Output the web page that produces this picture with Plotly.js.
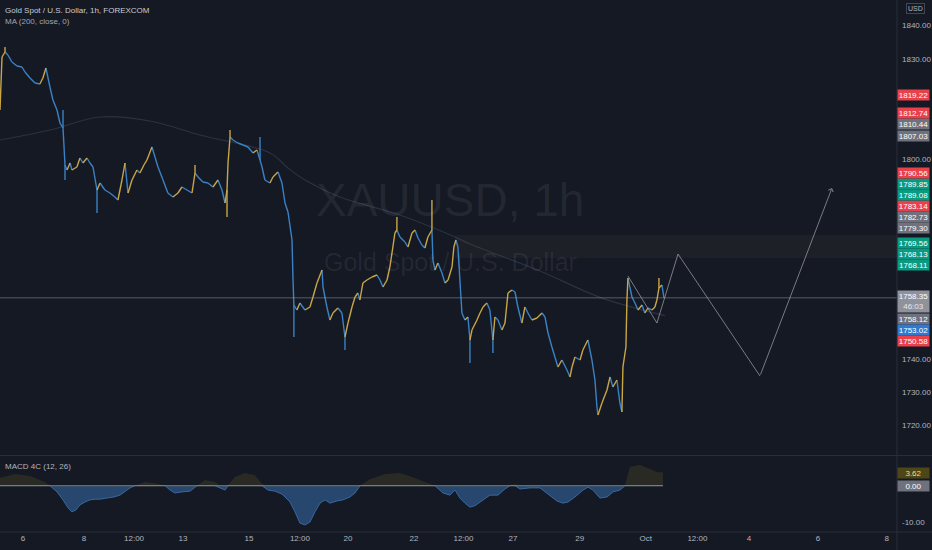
<!DOCTYPE html>
<html><head><meta charset="utf-8">
<script src="https://cdn.plot.ly/plotly-3.0.1.min.js"></script>
<style>html,body{margin:0;padding:0;background:#151924;overflow:hidden}#chart{width:932px;height:550px}</style>
</head><body><div id="chart"></div>
<script>
// ---- data (bar index = hourly bars from Sep 6 open) ----
const barIdx = [-16.0,-14.6,-12.5,-10.5,-7.7,-4.2,-0.7,1.4,4.9,8.4,11.8,13.9,16.0,18.8,20.9,23.7,25.8,27.9,29.3,30.7,32.8,34.1,37.6,39.7,41.8,44.6,46.7,48.8,51.6,53.7,57.1,60.6,64.1,66.2,69.0,71.1,73.2,76.0,79.4,81.5,84.3,86.4,89.9,92.0,94.1,97.6,101.0,104.5,108.0,110.8,114.3,117.8,119.9,122.0,125.4,128.9,132.4,135.9,138.7,140.8,142.2,142.9,144.3,146.3,149.8,153.3,156.8,160.3,163.1,165.2,166.6,168.6,172.1,174.2,177.7,180.5,182.6,184.7,187.5,188.2,188.8,190.9,193.0,196.5,200.0,202.1,204.9,208.4,209.1,211.8,213.9,216.0,219.5,222.3,224.4,226.5,229.3,231.4,233.4,234.8,236.9,239.7,243.2,246.7,248.8,250.9,253.7,255.7,257.8,259.2,260.6,262.7,266.2,268.3,271.1,273.2,275.3,278.0,280.1,282.2,285.0,285.7,287.1,289.2,292.0,294.1,296.2,299.0,300.3,301.7,303.1,304.5,305.9,308.0,310.1,311.5,312.9,316.4,318.5,320.6,323.3,325.4,327.5,328.9,331.0,333.8,335.9,338.0,340.8,342.9,344.9,347.7,349.8,351.9,354.7,358.2,361.7,363.8,365.9,368.6,370.7,372.8,375.6,379.1,381.2,382.6,384.7,388.2,390.2,393.7,396.5,398.6,400.0,400.7,403.5,407.0,409.1,411.1,413.9,416.0,417.4,418.1,420.2,420.9,421.6,424.4,426.5,428.6,431.4,433.4,435.5,438.3,440.4,441.8,443.2,445.3,446.7];
const closes = [1814.7,1830.6,1832.1,1831.2,1829.1,1827.9,1827.6,1826.1,1824.3,1822.8,1822.5,1824.3,1827.3,1821.6,1817.7,1814.7,1810.8,1809.3,1798.2,1796.7,1798.8,1796.7,1797.6,1800.3,1798.8,1800.3,1798.8,1797.6,1790.7,1792.8,1790.7,1789.8,1788.6,1787.7,1793.7,1798.8,1789.8,1793.7,1796.7,1795.8,1798.2,1799.7,1803.6,1800.6,1797.6,1793.7,1789.8,1788.6,1789.8,1791.6,1790.7,1789.8,1795.8,1794.6,1793.1,1792.8,1791.6,1793.7,1790.7,1786.8,1790.7,1798.8,1806.6,1805.7,1804.8,1804.2,1803.6,1801.8,1802.7,1799.7,1797.6,1793.7,1792.8,1794.6,1796.1,1792.8,1786.8,1784.1,1775.7,1763.7,1756.2,1754.7,1756.8,1754.7,1755.6,1758.6,1762.8,1766.7,1761.6,1755.6,1751.7,1753.8,1755.3,1753.8,1746.6,1750.8,1755.6,1758.6,1759.8,1757.7,1762.8,1763.7,1764.6,1765.2,1763.7,1761.6,1763.7,1767.6,1773.6,1777.8,1778.7,1776.6,1775.1,1773.6,1777.8,1778.7,1776.3,1774.2,1773.3,1776.6,1778.7,1769.7,1766.7,1768.8,1765.8,1762.8,1763.7,1767.6,1773.6,1775.7,1773.6,1763.7,1753.8,1751.7,1752.6,1745.7,1748.7,1751.7,1753.8,1755.6,1756.8,1754.7,1745.7,1752.6,1751.7,1748.7,1750.8,1759.8,1760.7,1760.1,1755.6,1750.8,1755.6,1753.8,1751.7,1752.3,1753.8,1752.6,1747.8,1743.6,1740.6,1737.6,1739.7,1736.7,1734.6,1737.6,1740.6,1739.7,1742.7,1745.7,1739.7,1733.7,1725.6,1723.2,1726.8,1730.7,1734.6,1731.6,1733.7,1726.8,1724.1,1737.6,1743.6,1757.7,1764.3,1758.6,1756.8,1754.7,1756.2,1753.8,1755.3,1754.7,1755.6,1757.7,1761.3,1762.2,1758.35];
const spikeIdx = [-12.5,27.9,29.3,51.6,119.9,142.2,144.3,165.2,188.8,224.4,260.6,285.0,311.5,327.5,443.2];
const spikeVal = [1833.6,1814.7,1793.7,1783.8,1798.2,1782.6,1808.7,1806.6,1746.6,1742.7,1782.6,1787.7,1738.8,1741.8,1764.3];
const maIdx = [-16.0,18.8,53.7,88.5,123.4,172.1,184.7,196.5,220.9,262.7,301.1,311.5,360.3,402.1,447.4];
const maVal = [1805.7,1808.7,1812.6,1811.4,1807.2,1801.8,1797.3,1793.7,1788.6,1783.2,1776.6,1774.5,1766.4,1758.5,1753.0];
const macdIdx = [-16.0,-5.6,4.9,15.3,18.8,23.7,27.9,31.4,34.1,36.9,39.7,43.2,46.7,50.2,53.7,58.5,63.4,67.6,71.1,74.6,78.1,85.0,92.0,99.0,102.5,105.9,110.8,116.4,121.3,126.8,133.8,137.3,140.8,142.9,147.7,154.7,161.7,166.6,170.7,175.6,180.5,186.1,189.6,193.0,196.5,200.0,203.5,207.0,210.5,213.9,218.8,223.0,227.9,231.4,234.9,241.8,252.3,262.7,271.1,280.1,287.1,292.7,297.6,301.1,304.5,308.0,311.5,315.0,320.6,325.4,331.0,335.9,339.4,342.9,346.4,353.3,360.3,367.3,372.1,376.3,379.8,384.7,390.3,393.7,397.2,402.1,407.0,411.2,416.0,419.5,423.0,430.0,436.9,441.8,446.0];
const macdVal = [2.1,3.2,2.7,1.0,0,-1.7,-3.9,-6.1,-7.2,-6.7,-5.3,-4.5,-3.9,-3.7,-3.7,-3.4,-3.1,-2.6,-1.7,-0.6,0,1.0,0.7,0,-1.2,-2.0,-1.7,-1.5,0,1.6,1.0,-0.6,-1.2,0.2,2.4,3.5,2.9,0.5,-1.2,-1.5,-2.3,-4.5,-7.2,-10.3,-10.8,-10.0,-7.2,-4.8,-3.9,-4.8,-4.2,-3.9,-3.1,-2.0,0,1.8,3.2,3.5,2.4,1.0,0,-2.0,-2.6,-1.2,-3.4,-4.8,-5.9,-5.5,-3.9,-2.6,-2.6,-0.9,0,0.5,-0.9,-0.6,-0.6,-2.6,-4.2,-4.8,-4.5,-3.1,-1.2,-0.4,-1.2,-3.4,-3.1,-1.7,-1.2,0,5.2,5.7,4.6,3.8,3.62];
const tickIdx = [0,42.5,77.4,111.5,157.5,193,226.5,272.5,307,341.5,388,434,470,506,554,602];
const tickText = ['6','8','12:00','13','15','12:00','20','22','12:00','27','29','Oct','12:00','4','6','8'];
const priceTicks = [1720,1730,1740,1750,1760,1770,1780,1790,1800,1810,1820,1830,1840];
const projIdx = [421.6,441.8,456.5,513.6];
const projVal = [1764.9,1750.8,1771.5,1734.9];
const arrowTip = [563.8,1791.3];
const zoneStart = 301.1, zoneLow = 1770.3, zoneHigh = 1777.2;
const labelVals = [1819.22,1812.74,1810.44,1807.03,1790.56,1789.85,1789.08,1783.14,1782.73,1779.30,1769.56,1768.13,1768.11,1758.12,1753.02,1750.58];
const labelKind = ['r','r','g0','g0','r','t','t','r','g0','g0','t','t','t','g0','b','r'];
const lastPrice = 1758.35, countdown = '46:03';
const macdLast = 3.62;

// ---- geometry ----
const W=932,H=550,ML=0,MR=35,MT=0,MB=18;
const PW=W-ML-MR, PH=H-MT-MB;
const yMainRange=[1711.2,1847.7], yMacdRange=[-12.75,8.18], xRange=[-16.0,609.1];
const mainDom=[77/PH,1], macdDom=[0,76/PH];
const FONT='"Liberation Sans",Arial,sans-serif';
const COL={r:'#e8414b',t:'#0a9981',g0:'#6f727d',b:'#2f7ad0'};
const UP='#c9a646', DN='#3b82c4';

// price path segments coloured by direction
const upX=[],upY=[],dnX=[],dnY=[];
for(let i=1;i<barIdx.length;i++){
  const up=closes[i]>=closes[i-1];
  (up?upX:dnX).push(barIdx[i-1],barIdx[i],null);
  (up?upY:dnY).push(closes[i-1],closes[i],null);
}
spikeIdx.forEach((b,k)=>{
  const i=barIdx.indexOf(b); if(i<0)return;
  const up=i>0?closes[i]>=closes[i-1]:true;
  (up?upX:dnX).push(b,b,null);
  (up?upY:dnY).push(closes[i],spikeVal[k],null);
});

const traces=[
 {x:maIdx,y:maVal,type:'scatter',mode:'lines',line:{color:'rgba(120,140,175,0.22)',width:1.2,shape:'spline'},hoverinfo:'skip',yaxis:'y'},
 {x:dnX,y:dnY,type:'scatter',mode:'lines',line:{color:DN,width:1.4},hoverinfo:'skip',yaxis:'y'},
 {x:upX,y:upY,type:'scatter',mode:'lines',line:{color:UP,width:1.4},hoverinfo:'skip',yaxis:'y'},
 {x:projIdx,y:projVal,type:'scatter',mode:'lines',line:{color:'rgba(165,165,170,0.7)',width:1},hoverinfo:'skip',yaxis:'y'},
 {x:macdIdx,y:macdVal.map(v=>Math.max(v,0)),type:'scatter',mode:'lines',fill:'tozeroy',fillcolor:'rgba(120,105,40,0.22)',line:{width:0,color:'rgba(0,0,0,0)'},hoverinfo:'skip',xaxis:'x',yaxis:'y2'},
 {x:macdIdx,y:macdVal.map(v=>Math.min(v,0)),type:'scatter',mode:'lines',fill:'tozeroy',fillcolor:'#27476e',line:{width:1,color:'#3867a0'},hoverinfo:'skip',xaxis:'x',yaxis:'y2'},
 {x:[macdIdx[0],macdIdx[macdIdx.length-1]],y:[0,0],type:'scatter',mode:'lines',line:{color:'rgba(170,150,90,0.75)',width:1},hoverinfo:'skip',yaxis:'y2'}
];

// pixel helpers
function pixY(v){ const t=(v-yMainRange[0])/(yMainRange[1]-yMainRange[0]); const top=PH*(1-mainDom[1]), h=PH*(mainDom[1]-mainDom[0]); return top+h*(1-t);}
function paperFromPix(p){ return 1-p/PH; }

const ann=[];
const tf={family:FONT,size:8,color:'#ffffff'};
const LX=914/PW;
// current price box
const lpY=pixY(lastPrice), boxTop=lpY-7, boxBot=lpY+14;
ann.push({xref:'paper',yref:'paper',x:LX,y:paperFromPix((boxTop+boxBot)/2),xanchor:'center',yanchor:'middle',showarrow:false,
  text:lastPrice.toFixed(2)+'<br><span style="color:#e6e8ee">'+countdown+'</span>',bgcolor:'#8f929b',font:tf,width:31,height:21,borderpad:0});
// stacked labels
const above=labelVals.map((v,i)=>({v,k:labelKind[i]})).filter(o=>o.v>lastPrice).sort((a,b)=>a.v-b.v);
const below=labelVals.map((v,i)=>({v,k:labelKind[i]})).filter(o=>o.v<=lastPrice).sort((a,b)=>b.v-a.v);
let prev=boxTop+5.5;
above.forEach(o=>{ const c=Math.min(pixY(o.v),prev-11); prev=c; o.c=c; });
prev=boxBot-4;
below.forEach(o=>{ const c=Math.max(pixY(o.v),prev+11); prev=c; o.c=c; });
const placed=above.concat(below);
placed.forEach(o=>{
  ann.push({xref:'paper',yref:'paper',x:LX,y:paperFromPix(o.c),xanchor:'center',yanchor:'middle',showarrow:false,
    text:o.v.toFixed(2),bgcolor:COL[o.k],font:tf,width:31,height:10,borderpad:0});
});
// price scale ticks that are not hidden behind a label box
const occupied=placed.map(o=>[o.c-5,o.c+5]).concat([[boxTop,boxBot]]);
const visTicks=priceTicks.filter(v=>{const p=pixY(v);return !occupied.some(r=>p>r[0]-5&&p<r[1]+5);});
// macd labels
ann.push({xref:'paper',yref:'y2',x:LX,y:macdLast,xanchor:'center',yanchor:'middle',showarrow:false,text:macdLast.toFixed(2),bgcolor:'#4d4617',font:{family:FONT,size:8,color:'#f0dc8a'},width:31,height:10,borderpad:0});
ann.push({xref:'paper',yref:'y2',x:LX,y:0,xanchor:'center',yanchor:'middle',showarrow:false,text:'0.00',bgcolor:'#6f727d',font:tf,width:31,height:10,borderpad:0});
// USD
ann.push({xref:'paper',yref:'paper',x:915/PW,y:paperFromPix(9),xanchor:'center',yanchor:'middle',showarrow:false,text:'USD',font:{family:FONT,size:7,color:'#b2b5be'},bordercolor:'#434651',borderwidth:1,borderpad:1});
// headers
ann.push({xref:'paper',yref:'paper',x:3/PW,y:paperFromPix(10),xanchor:'left',yanchor:'middle',showarrow:false,text:'Gold Spot / U.S. Dollar, 1h, FOREXCOM',font:{family:FONT,size:8,color:'#c9ccd4'}});
ann.push({xref:'paper',yref:'paper',x:3/PW,y:paperFromPix(21),xanchor:'left',yanchor:'middle',showarrow:false,text:'MA (200, close, 0)',font:{family:FONT,size:8,color:'#a3a6af'}});
ann.push({xref:'paper',yref:'paper',x:3/PW,y:paperFromPix(466),xanchor:'left',yanchor:'middle',showarrow:false,text:'MACD 4C (12, 26)',font:{family:FONT,size:8,color:'#b2b5be'}});
// watermark
ann.push({xref:'paper',yref:'paper',x:450/PW,y:paperFromPix(200),xanchor:'center',yanchor:'middle',showarrow:false,text:'XAUUSD, 1h',font:{family:FONT,size:46,color:'rgba(255,255,255,0.07)'}});
ann.push({xref:'paper',yref:'paper',x:451/PW,y:paperFromPix(262),xanchor:'center',yanchor:'middle',showarrow:false,text:'Gold Spot / U.S. Dollar',font:{family:FONT,size:25,color:'rgba(255,255,255,0.07)'}});
// projection arrow
ann.push({xref:'x',yref:'y',axref:'x',ayref:'y',x:arrowTip[0],y:arrowTip[1],ax:projIdx[projIdx.length-1],ay:projVal[projVal.length-1],showarrow:true,arrowhead:4,arrowsize:1,arrowwidth:1,arrowcolor:'rgba(165,165,170,0.7)',standoff:0,text:''});

const SEP='#2a2e39';
const shapes=[
 {type:'rect',xref:'x',yref:'y',x0:zoneStart,x1:xRange[1],y0:zoneLow,y1:zoneHigh,fillcolor:'rgba(120,100,70,0.10)',line:{width:0},layer:'below'},
 {type:'line',xref:'paper',yref:'y',x0:0,x1:1,y0:lastPrice,y1:lastPrice,line:{color:'rgba(170,172,180,0.45)',width:1}},
 {type:'line',xref:'paper',yref:'paper',x0:1,x1:1,y0:-MB/PH,y1:1,line:{color:SEP,width:1}},
 {type:'line',xref:'paper',yref:'paper',x0:0,x1:W/PW,y0:mainDom[0]-0.5/PH,y1:mainDom[0]-0.5/PH,line:{color:SEP,width:1}},
 {type:'line',xref:'paper',yref:'paper',x0:0,x1:W/PW,y0:0,y1:0,line:{color:SEP,width:1}}
];

const axFont={family:FONT,size:8,color:'#b2b5be'};
const layout={
 width:W,height:H,margin:{l:ML,r:MR,t:MT,b:MB},
 paper_bgcolor:'#151924',plot_bgcolor:'#151924',showlegend:false,
 xaxis:{range:xRange,anchor:'y2',tickvals:tickIdx,ticktext:tickText,showgrid:false,zeroline:false,showline:false,ticks:'',tickfont:axFont,fixedrange:true},
 yaxis:{domain:mainDom,range:yMainRange,side:'right',tickvals:visTicks,tickformat:'.2f',showgrid:false,zeroline:false,showline:false,ticks:'',ticklabelstandoff:4,tickfont:axFont,anchor:'x'},
 yaxis2:{domain:macdDom,range:yMacdRange,side:'right',tickvals:[-10],ticktext:['-10.00'],showgrid:false,zeroline:false,showline:false,ticks:'',ticklabelstandoff:4,tickfont:axFont,anchor:'x'},
 shapes:shapes,annotations:ann
};
Plotly.newPlot('chart',traces,layout,{staticPlot:true,displayModeBar:false});
</script></body></html>
